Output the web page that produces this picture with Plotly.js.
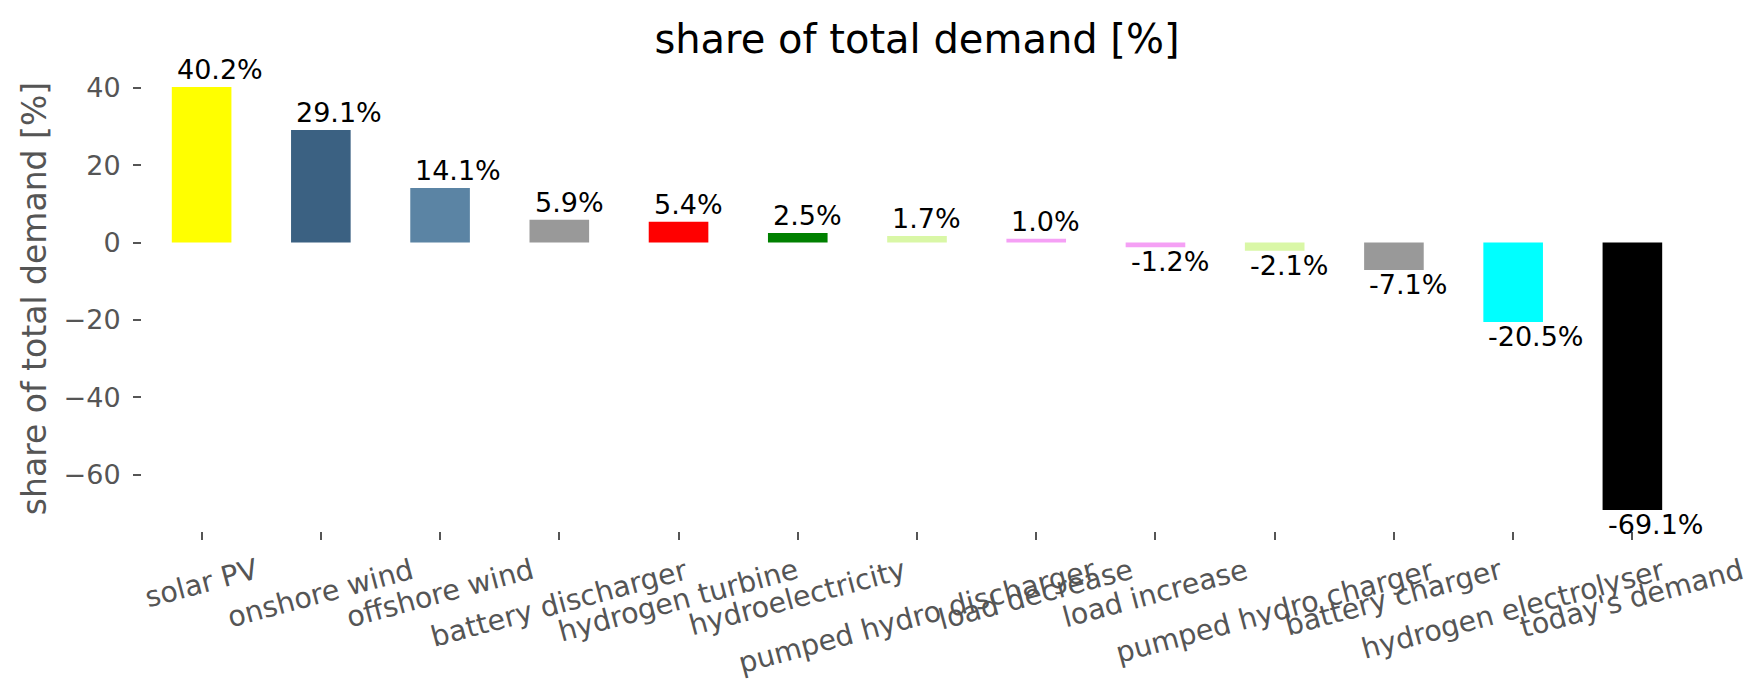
<!DOCTYPE html>
<html>
<head>
<meta charset="utf-8">
<script src="https://cdn.plot.ly/plotly-3.0.1.min.js"></script>
<style>html,body{margin:0;padding:0;background:#fff;}</style>
</head>
<body>
<div id="chart" style="width:1764px;height:689px;"></div>
<script>
const categories = ["solar PV", "onshore wind", "offshore wind", "battery discharger", "hydrogen turbine", "hydroelectricity", "pumped hydro discharger", "load decrease", "load increase", "pumped hydro charger", "battery charger", "hydrogen electrolyser", "today's demand"];
const shareValues = [40.2, 29.1, 14.1, 5.9, 5.4, 2.5, 1.7, 1.0, -1.2, -2.1, -7.1, -20.5, -69.1];
const barColors = ["#ffff00", "#3b6182", "#5b84a4", "#999999", "#ff0000", "#008000", "#d9f7a6", "#f5a0f5", "#f5a0f5", "#d9f7a6", "#999999", "#00ffff", "#000000"];
const yTickValues = [-60, -40, -20, 0, 20, 40];
const chartTitle = "share of total demand [%]";
const yAxisTitle = "share of total demand [%]";

const idx = categories.map((c, i) => i);
const FONT = "DejaVu Sans, Liberation Sans, sans-serif";

const trace = {
  type: "bar",
  x: idx,
  y: shareValues,
  width: 0.5,
  marker: {color: barColors, line: {width: 0}},
  hoverinfo: "skip",
  showlegend: false
};

const annotations = [];
// value labels
shareValues.forEach((v, i) => {
  annotations.push({
    x: i - 0.25, y: v, xref: "x", yref: "y",
    text: v.toFixed(1) + "%",
    showarrow: false,
    xanchor: "left",
    yanchor: v >= 0 ? "bottom" : "top",
    xshift: 3,
    yshift: v >= 0 ? 0 : 3,
    font: {family: FONT, size: 27, color: "#000000"}
  });
});
// rotated category labels
categories.forEach((c, i) => {
  annotations.push({
    x: i, y: -0.042, xref: "x", yref: "paper",
    text: c,
    showarrow: false,
    textangle: -15,
    xanchor: "center",
    yanchor: "top",
    font: {family: FONT, size: 28.5, color: "#555555"}
  });
});

const layout = {
  width: 1764,
  height: 689,
  margin: {l: 142, r: 72, t: 66, b: 158, pad: 0},
  paper_bgcolor: "#ffffff",
  plot_bgcolor: "#ffffff",
  font: {family: FONT, color: "#555555"},
  title: {
    text: chartTitle,
    font: {family: FONT, size: 40, color: "#000000"},
    x: 0.5, xref: "paper", xanchor: "center",
    y: 1 - 39 / 689, yref: "container", yanchor: "middle"
  },
  xaxis: {
    type: "linear",
    range: [-0.5, 12.5],
    tickvals: idx,
    showticklabels: false,
    ticks: "outside",
    ticklen: 8,
    tickwidth: 2,
    tickcolor: "#555555",
    showgrid: false,
    zeroline: false,
    showline: false,
    fixedrange: true
  },
  yaxis: {
    range: [-74.555, 45.655],
    tickvals: yTickValues,
    ticks: "outside",
    ticklen: 8,
    tickwidth: 2,
    tickcolor: "#555555",
    tickfont: {family: FONT, size: 27, color: "#555555"},
    ticklabelstandoff: 7,
    showgrid: false,
    zeroline: false,
    showline: false,
    automargin: false,
    title: {
      text: yAxisTitle,
      font: {family: FONT, size: 33, color: "#555555"},
      standoff: 7
    }
  },
  annotations: annotations,
  bargap: 0.5
};

Plotly.newPlot("chart", [trace], layout, {displayModeBar: false, staticPlot: true});
</script>
</body>
</html>
